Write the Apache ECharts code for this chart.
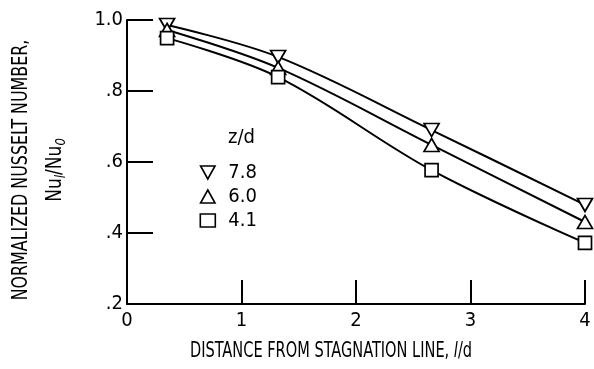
<!DOCTYPE html>
<html>
<head>
<meta charset="utf-8">
<script src="https://cdn.jsdelivr.net/npm/echarts@6/dist/echarts.min.js"></script>
<style>
  html, body { margin: 0; padding: 0; background: #fff; }
  #chart { width: 594px; height: 369px; }
</style>
</head>
<body>
<div id="chart"></div>
<script>
// Distance from stagnation line, l/d
const distance = [0.35, 1.32, 2.66, 4.0];
// Normalized Nusselt number Nu_l/Nu_0 for each jet-to-plate spacing z/d
const nu78 = [0.986, 0.896, 0.690, 0.479];
const nu60 = [0.972, 0.865, 0.648, 0.431];
const nu41 = [0.949, 0.839, 0.577, 0.372];
const seriesNames = ['7.8', '6.0', '4.1'];
const yTickLabels = { '0.2': '.2', '0.4': '.4', '0.6': '.6', '0.8': '.8', '1': '1.0' };

const FONT = '"Liberation Sans Narrow", "DejaVu Sans Condensed", "Liberation Sans", sans-serif';
const downTri = 'path://M0,0 L10,0 L5,9 Z';
const upTri = 'path://M5,0 L10,9 L0,9 Z';

function pairs(ys) { return distance.map((x, i) => [x, ys[i]]); }

function curve(name, ys, symbol, size) {
  return {
    name: name,
    type: 'line',
    data: pairs(ys),
    smooth: 0.35,
    symbol: symbol,
    symbolSize: size,
    showAllSymbol: true,
    lineStyle: { color: '#000', width: 2 },
    itemStyle: { color: '#fff', borderColor: '#000', borderWidth: 1.7 },
    emphasis: { disabled: true },
    z: 3
  };
}

const chart = echarts.init(document.getElementById('chart'), null, { renderer: 'canvas' });
chart.setOption({
  animation: false,
  backgroundColor: '#fff',
  grid: { left: 127, right: 9, top: 20, bottom: 65, containLabel: false },
  xAxis: {
    type: 'value', min: 0, max: 4, interval: 1,
    axisLine: { show: true, lineStyle: { color: '#000', width: 2 } },
    axisTick: { show: true, inside: true, length: 24, lineStyle: { color: '#000', width: 2 } },
    axisLabel: { color: '#000', fontFamily: FONT, fontSize: 20, margin: 7 },
    splitLine: { show: false }
  },
  yAxis: {
    type: 'value', min: 0.2, max: 1.0, interval: 0.2,
    axisLine: { show: true, lineStyle: { color: '#000', width: 2 } },
    axisTick: { show: true, inside: true, length: 26, lineStyle: { color: '#000', width: 2 } },
    axisLabel: {
      color: '#000', fontFamily: FONT, fontSize: 20, margin: 4,
      formatter: v => yTickLabels[String(Math.round(v * 10) / 10)] || ''
    },
    splitLine: { show: false }
  },
  legend: {
    orient: 'vertical',
    left: 199.5, top: 162.5, padding: 0,
    itemWidth: 15, itemHeight: 13, itemGap: 4,
    textStyle: { color: '#000', fontFamily: FONT, fontSize: 20, padding: [0, 0, 0, 8] },
    data: [
      { name: seriesNames[0], icon: downTri },
      { name: seriesNames[1], icon: upTri },
      { name: seriesNames[2], icon: 'rect' }
    ],
    itemStyle: { color: '#fff', borderColor: '#000', borderWidth: 1.6 },
    selectedMode: false
  },
  graphic: [
    {
      type: 'text', left: 228, top: 128,
      style: { text: 'z/d', fill: '#000', font: '20px ' + FONT }
    },
    {
      type: 'text', x: 331, y: 352, scaleX: 0.9, scaleY: 1.15,
      style: {
        text: '{a|DISTANCE FROM STAGNATION LINE, }{i|l}{a|/d}',
        fill: '#000', align: 'center', verticalAlign: 'middle',
        rich: {
          a: { fontFamily: FONT, fontSize: 18, fill: '#000' },
          i: { fontFamily: FONT, fontSize: 18, fontStyle: 'italic', fill: '#000' }
        }
      }
    },
    {
      type: 'text', x: 22, y: 170, rotation: Math.PI / 2, scaleX: 0.98, scaleY: 1.15,
      style: {
        text: 'NORMALIZED NUSSELT NUMBER,',
        fill: '#000', align: 'center', verticalAlign: 'middle',
        font: '18px ' + FONT
      }
    },
    {
      type: 'text', x: 56, y: 170, rotation: Math.PI / 2, scaleY: 1.1,
      style: {
        text: '{a|Nu}{s|l}{a|/Nu}{s|0}',
        align: 'center', verticalAlign: 'middle',
        rich: {
          a: { fontFamily: FONT, fontSize: 19, fill: '#000' },
          s: { fontFamily: FONT, fontSize: 13, fill: '#000', padding: [9, 0, 0, 0], fontStyle: 'italic' }
        }
      }
    }
  ],
  series: [
    curve(seriesNames[0], nu78, downTri, [15, 13]),
    curve(seriesNames[1], nu60, upTri, [15, 13]),
    curve(seriesNames[2], nu41, 'rect', 13)
  ]
});
</script>
</body>
</html>
